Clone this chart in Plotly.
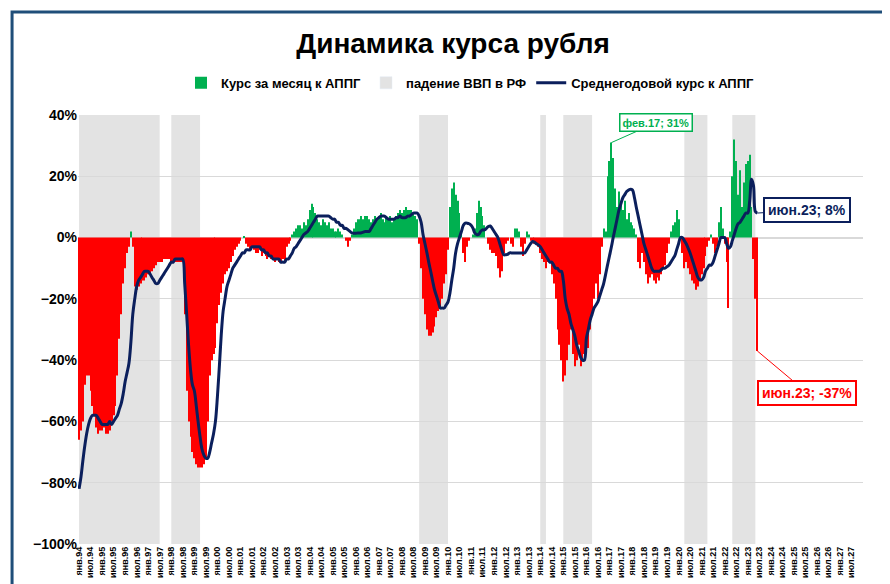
import plotly.graph_objects as go
import pandas as pd

bars_by_year = {
    1994: [-66,-63,-60,-48,-45,-45,-50,-55,-58,-62,-64,-63],
    1995: [-63,-62,-64,-64,-63,-60,-58,-55,-45,-33,-25,-15],
    1996: [-10,-5,-3,2,-3,-16,-17,-16,-15,-14,-14,-13],
    1997: [-12,-12,-11,-10,-9,-8,-8,-8,-7,-7,-7,-7],
    1998: [-8,-8,-8,-8,-8,-8,-8,-25,-50,-60,-65,-70],
    1999: [-72,-74,-75,-75,-75,-74,-72,-60,-45,-40,-38,-36],
    2000: [-28,-22,-18,-15,-12,-11,-10,-8,-6,-4,-3,-2],
    2001: [-1,0,0.5,-2,-3,-4,-3,-4,-5,-5,-4,-6],
    2002: [-5,-6,-7,-6,-7,-7,-8,-7,-8,-8,-7,-8],
    2003: [-3,-2,-1,1,2,3,4,4,3,5,4,6],
    2004: [9,11,10,8,6,5,4,6,5,4,5,3],
    2005: [3,2,2,3,2,1,0,-1,-3,-1,1,3],
    2006: [5,6,6,7,6,7,7,6,5,6,7,6],
    2007: [7,8,6,5,7,6,7,5,6,7,8,9],
    2008: [8,9,10,9,9,9,8,7,6,-2,-10,-20],
    2009: [-25,-30,-32,-32,-31,-29,-26,-24,-23,-20,-15,-12],
    2010: [-4,10,16,18,14,12,8,2,-5,-8,-3,-1],
    2011: [0,1,3,8,12,10,7,4,0,-2,-4,-5],
    2012: [-5,-6,-10,-13,-11,-5,-2,-1,0,-2,-3,3],
    2013: [3,2,-3,-6,-2,2,1,-1,-1,-2,-2,-3],
    2014: [-5,-7,-8,-10,-8,-8,-12,-15,-20,-30,-35,-40],
    2015: [-47,-45,-40,-35,-30,-38,-42,-40,-35,-42,-40,-38],
    2016: [-38,-36,-30,-25,-20,-15,-20,-12,-3,3,2,20],
    2017: [25,31,26,16,10,15,12,9,12,6,8,5],
    2018: [4,3,1,-8,-10,-5,-8,-12,-15,-13,-12,-14],
    2019: [-15,-13,-14,-12,-10,-9,-5,-2,2,4,5,9],
    2020: [6,0,-5,-10,-8,-10,-12,-14,-15,-17,-16,-14],
    2021: [-12,-10,-6,-3,-1,1,-2,-5,-3,5,10,3],
    2022: [-2,-8,-23,2,20,32,25,14,22,10,18,24],
    2023: [25,27,10,-7,-20,-37],
}

line_by_year = {
    1994: [-82,-78,-73,-68,-64,-61,-59,-58,-58,-58,-59,-60],
    1995: [-61,-61,-61,-61,-60,-61,-60,-59,-58,-56,-54,-51],
    1996: [-47,-44,-41,-34,-25,-20,-16,-14,-13,-12,-11,-11],
    1997: [-11,-12,-13,-14,-15,-15,-14,-13,-12,-11,-10,-9],
    1998: [-8,-8,-7,-7,-7,-7,-7,-15,-25,-35,-43,-48],
    1999: [-50,-55,-60,-65,-69,-71,-72,-72,-70,-67,-64,-60],
    2000: [-52,-42,-32,-24,-20,-16,-14,-12,-10,-9,-8,-7],
    2001: [-6,-5,-5,-4,-4,-4,-3,-3,-3,-3,-3,-4],
    2002: [-4,-5,-5,-6,-6,-7,-7,-7,-7,-8,-8,-8],
    2003: [-7,-7,-6,-5,-3.5,-3,-2,-1,0,1,1.5,2],
    2004: [3,4,5,6,7,7,7,7,7,7,7,6.5],
    2005: [6,6,5,5,4,4,3,3,2.5,2,1.5,1.4],
    2006: [1.4,1.5,1.5,1.6,1.8,2,2,2,3,4,5,6],
    2007: [6.5,7,7,7,6.5,6,6,6,6,6.5,6.5,7],
    2008: [6.5,6.5,6.5,7,7,7.5,8,8,8,7,5,1],
    2009: [-2,-5,-8,-11,-14,-17,-19,-21,-23,-23,-23,-22],
    2010: [-21,-18,-14,-10,-5,-2,0,2,4,4.7,4.7,4.5],
    2011: [4,3,1.5,1,1,2,2.5,2.5,3,3.6,3.8,3],
    2012: [2,1,0,-2,-4,-5.6,-5.6,-5.5,-5,-5,-5,-5],
    2013: [-5,-5,-5,-5,-5,-4,-3,-2,-1.3,-1.5,-2,-2.4],
    2014: [-3,-4,-5,-6,-7,-8,-8,-9,-10,-10,-11,-11],
    2015: [-14,-20,-23,-25,-28,-30,-32,-35,-37,-39,-40,-40],
    2016: [-33,-30,-27,-25,-23,-22,-21,-19,-17,-15,-12,-9],
    2017: [-6,-3,0,3,6,9,11,13,14,15,15.5,15.8],
    2018: [15.5,13,10,7,4,1,-2,-4,-6,-8,-10,-11],
    2019: [-11,-11,-11,-10.5,-10,-10,-9.5,-9,-8,-7,-6,-4],
    2020: [-2,0,0,-1,-2,-3.5,-5,-7,-9,-11,-13,-13.8],
    2021: [-13.8,-13,-11,-10,-9,-9,-8,-6,-4,-2,0,0],
    2022: [0,-2,-3.5,-3,-1,1,3,4.5,5,6,7,8],
    2023: [8,12,19,17,8.5,8],
}

recessions = [("1994-01-01","1997-07-01"),("1998-01-01","1999-04-01"),
              ("2008-10-01","2010-01-01"),("2014-01-01","2014-04-01"),
              ("2015-01-01","2016-04-01"),("2020-04-01","2021-04-01"),
              ("2022-05-01","2023-05-01")]

ru_months = {1:"янв",7:"июл"}

dates, bars, line = [], [], []
for y in sorted(bars_by_year):
    for i, v in enumerate(bars_by_year[y]):
        dates.append(pd.Timestamp(y, i+1, 1))
        bars.append(v)
    line.extend(line_by_year[y])

pos = [v if v >= 0 else None for v in bars]
neg = [v if v < 0 else None for v in bars]

tickvals, ticktext = [], []
for y in range(1994, 2028):
    for m in (1, 7):
        tickvals.append(pd.Timestamp(y, m, 1))
        ticktext.append(f"<b>{ru_months[m]}.{str(y)[2:]}</b>")

fig = go.Figure()
for a, b in recessions:
    fig.add_vrect(x0=a, x1=b, fillcolor="#E3E3E3", line_width=0, layer="below")

fig.add_trace(go.Bar(x=dates, y=pos, marker_color="#00B050", name="Курс за месяц к АППГ",
                     marker_line_width=0))
fig.add_trace(go.Bar(x=[None], y=[None], marker_color="#E3E3E3", name="падение ВВП в РФ"))
fig.add_trace(go.Bar(x=dates, y=neg, marker_color="#FF0000", showlegend=False,
                     marker_line_width=0))
fig.add_trace(go.Scatter(x=dates, y=line, mode="lines", line=dict(color="#0B1F5C", width=3, shape="spline"),
                         name="Среднегодовой курс к АППГ"))

fig.add_annotation(x=dates[277], y=bars[277], text="<b>фев.17; 31%</b>", showarrow=True, arrowhead=0,
                   arrowcolor="#00B050", ax=45, ay=-20, bordercolor="#00B050", borderwidth=1.5,
                   bgcolor="white", font=dict(color="#00B050", size=11, family="Arial"), borderpad=2)
fig.add_annotation(x=dates[-1], y=line[-1], text="<b>июн.23; 8%</b>", showarrow=True, arrowhead=0,
                   arrowcolor="#0B1F5C", ax=50, ay=-3, bordercolor="#0B1F5C", borderwidth=2,
                   bgcolor="white", font=dict(color="#0B1F5C", size=14, family="Arial"), borderpad=3)
fig.add_annotation(x=dates[-1], y=bars[-1], text="<b>июн.23; -37%</b>", showarrow=True, arrowhead=0,
                   arrowcolor="#FF0000", ax=50, ay=42, bordercolor="#FF0000", borderwidth=2,
                   bgcolor="white", font=dict(color="#FF0000", size=14, family="Arial"), borderpad=3)

fig.add_shape(type="rect", xref="paper", yref="paper", x0=-0.084, x1=1.04, y0=-0.103, y1=1.24,
              line=dict(color="#1F4E79", width=3))

fig.update_layout(
    width=890, height=584, paper_bgcolor="white", plot_bgcolor="white",
    margin=dict(l=70, r=35, t=107, b=48, autoexpand=False),
    barmode="overlay", bargap=0.45,
    title=dict(text="<b>Динамика курса рубля</b>", x=0.5, xanchor="center", y=0.94, yanchor="middle",
               font=dict(size=28, color="black", family="Arial")),
    legend=dict(orientation="h", x=0.5, xanchor="center", y=1.075, yanchor="middle",
                font=dict(size=13, family="Arial", color="black"), traceorder="normal"),
    font=dict(family="Arial"),
    showlegend=True,
)
fig.data[0].name = "<b>Курс за месяц к АППГ</b>"
fig.data[1].name = "<b>падение ВВП в РФ</b>"
fig.data[3].name = "<b>Среднегодовой курс к АППГ</b>"
fig.update_xaxes(range=["1993-12-15", "2027-12-31"], tickvals=tickvals, ticktext=ticktext,
                 tickangle=-90, tickfont=dict(size=9, color="black"), showgrid=False,
                 ticks="", showline=False, automargin=False)
fig.update_yaxes(range=[-100, 40], dtick=20, ticksuffix="%", tickfont=dict(size=14, color="black"),
                 tickprefix="<b>", gridcolor="#D9D9D9", zeroline=True, zerolinecolor="#D9D9D9",
                 showline=False, automargin=False)
fig.write_html("out.html")
